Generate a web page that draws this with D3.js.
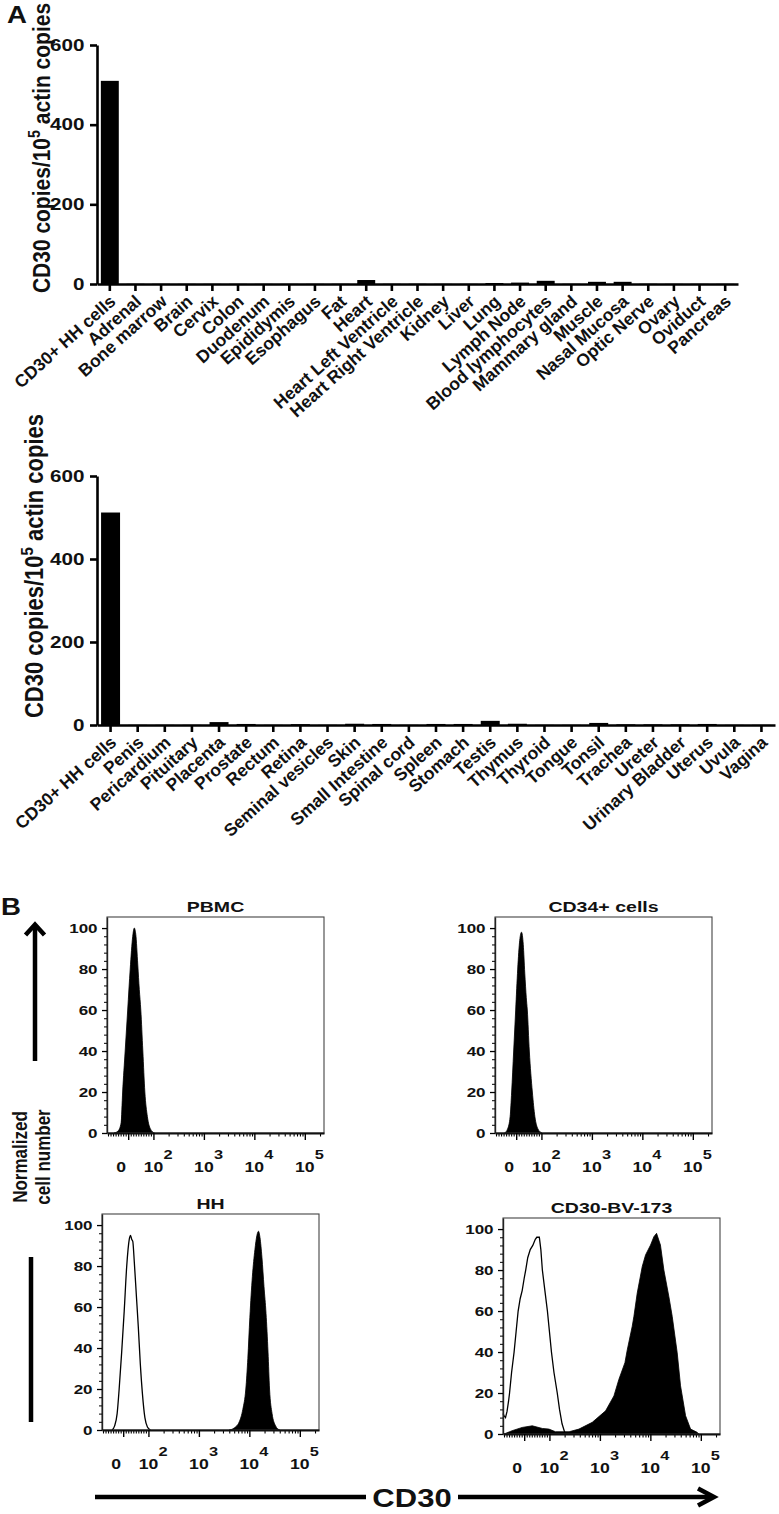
<!DOCTYPE html>
<html><head><meta charset="utf-8">
<script src="https://cdn.jsdelivr.net/npm/d3@7"></script>
<style>body{margin:0;background:#fff}text{font-family:"Liberation Sans",Arial,Helvetica,sans-serif;font-weight:bold;fill:#111}</style>
</head><body>
<script>
// ---------- Panel A data ----------
const tissuesTop = ["CD30+ HH cells","Adrenal","Bone marrow","Brain","Cervix","Colon","Duodenum","Epididymis","Esophagus","Fat","Heart","Heart Left Ventricle","Heart Right Ventricle","Kidney","Liver","Lung","Lymph Node","Blood lymphocytes","Mammary gland","Muscle","Nasal Mucosa","Optic Nerve","Ovary","Oviduct","Pancreas"];
const copiesTop = [510,0.4,0.4,0.3,0.3,0.3,0.3,0.3,0.3,0.4,10,0.4,0.4,0.3,0.3,2.5,3.5,8,0.4,5.5,5.5,0.4,0.3,0.3,0.3];
const tissuesBottom = ["CD30+ HH cells","Penis","Pericardium","Pituitary","Placenta","Prostate","Rectum","Retina","Seminal vesicles","Skin","Small Intestine","Spinal cord","Spleen","Stomach","Testis","Thymus","Thyroid","Tongue","Tonsil","Trachea","Ureter","Urinary Bladder","Uterus","Uvula","Vagina"];
const copiesBottom = [512,0.3,0.3,0.3,7,2.5,0.3,2,0.3,3,2.5,0.3,2.5,2.5,10,3,0.3,0.3,5,1.5,1.5,1.5,2.5,0.3,0.3];
const barYTicks = [0,200,400,600];

// ---------- Panel B data (x in display decades of the biexponential CD30 axis, y in % of max) ----------
const histYTicks = [0,20,40,60,80,100];
const histXTickPos = [1.5,2,3,4,5];
const histXTickLabels = ["0","2","3","4","5"];   // "0", then exponents of 10
const pbmcFilled = [[1.22,0],[1.3,1],[1.36,5],[1.39,20],[1.44,40],[1.49,60],[1.54,80],[1.59,96],[1.62,100],[1.65,97],[1.69,82],[1.72,70],[1.75,60],[1.79,40],[1.83,20],[1.88,8],[1.94,2],[2.02,0]];
const cd34Filled = [[1.27,0],[1.33,2],[1.38,8],[1.41,20],[1.45,40],[1.49,60],[1.53,80],[1.57,94],[1.605,98],[1.64,92],[1.67,78],[1.70,66],[1.72,60],[1.76,40],[1.82,20],[1.87,8],[1.93,2],[2.01,0]];
const hhOpen = [[1.28,0],[1.33,2],[1.38,8],[1.42,20],[1.47,38],[1.52,58],[1.57,80],[1.62,93],[1.645,95],[1.67,93],[1.69,92],[1.72,82],[1.76,66],[1.8,50],[1.84,32],[1.88,18],[1.93,6],[1.98,1.5],[2.04,0]];
const hhFilled = [[3.6,0],[3.7,1],[3.8,4],[3.87,10],[3.93,20],[3.97,35],[4.01,55],[4.06,75],[4.11,88],[4.15,95],[4.18,97],[4.21,94],[4.25,84],[4.29,70],[4.33,57],[4.37,38],[4.40,20],[4.45,8],[4.52,2],[4.6,0]];
const bvOpen = [[1.08,10],[1.1,9],[1.13,8],[1.16,11],[1.19,16],[1.21,20],[1.25,30],[1.30,40],[1.34,50],[1.38,60],[1.42,66],[1.46,70],[1.50,76],[1.53,80],[1.57,86],[1.62,90],[1.67,92],[1.72,95],[1.75,96],[1.80,96],[1.83,90],[1.86,80],[1.91,70],[1.96,60],[2.0,50],[2.04,40],[2.09,30],[2.155,20],[2.2,12],[2.25,5],[2.3,1],[2.35,0]];
const bvFilled = [[1.10,0],[1.26,1.6],[1.46,3.2],[1.66,4],[1.86,2.7],[1.99,2.4],[2.12,1.1],[2.39,1.1],[2.585,2.4],[2.849,5.7],[3.113,11.3],[3.278,18.6],[3.377,26.7],[3.496,34.8],[3.542,41],[3.641,52.6],[3.674,57.4],[3.74,68.8],[3.839,81.7],[3.905,87.4],[4.004,92.2],[4.07,96.3],[4.123,97.9],[4.2,92.2],[4.268,80],[4.367,67],[4.433,57.4],[4.532,39.6],[4.598,23.5],[4.698,8.9],[4.797,2.4],[4.928,0.8],[4.96,0]];

const W = 779, H = 1514, SX = 1.26;
const svg = d3.select("body").append("svg").attr("width", W).attr("height", H);
svg.append("rect").attr("width", W).attr("height", H).attr("fill", "#fff");

function stext(parent, x, y, str, size, anchor, sx) {
  return parent.append("text")
    .attr("transform", `translate(${x},${y}) scale(${sx == null ? SX : sx},1)`)
    .attr("text-anchor", anchor || "start")
    .attr("font-size", size).text(str);
}

// ---------- Bar charts ----------
function barChart(cats, vals, o) {
  const g = svg.append("g");
  const y = d3.scaleLinear().domain([0, 600]).range([o.base, o.top]);
  const x = d3.scaleBand().domain(cats).range([97, o.right]).paddingInner(0.3).paddingOuter(0.15);
  g.selectAll("rect.bar").data(vals).join("rect").attr("class", "bar")
    .attr("x", (d, i) => x(cats[i])).attr("y", d => y(d))
    .attr("width", x.bandwidth()).attr("height", d => y(0) - y(d)).attr("fill", "#000");
  const ya = g.append("g").attr("transform", "translate(97,0)")
    .call(d3.axisLeft(y).tickValues(barYTicks).tickSize(7).tickSizeOuter(0).tickPadding(3));
  ya.select(".domain").attr("stroke", "#000").attr("stroke-width", 2.6);
  ya.selectAll(".tick line").attr("stroke", "#000").attr("stroke-width", 2.6);
  ya.selectAll(".tick text").attr("font-size", 16.5).attr("font-family", null)
    .attr("transform", "scale(1.25,1)").attr("fill", "#111");
  const xa = g.append("g").attr("transform", `translate(0,${o.base})`)
    .call(d3.axisBottom(x).tickSize(7).tickSizeOuter(0));
  xa.select(".domain").attr("stroke", "#000").attr("stroke-width", 2.6);
  xa.selectAll(".tick line").attr("stroke", "#000").attr("stroke-width", 2.6);
  xa.selectAll(".tick text").attr("font-size", 17.5).attr("font-family", null).attr("fill", "#111")
    .attr("x", 0).attr("y", 0).attr("dy", 0)
    .attr("transform", "translate(7,19) rotate(-42)").attr("text-anchor", "end");
  // y label
  const t = g.append("text").attr("text-anchor", "middle").attr("font-size", o.ls)
    .attr("transform", `translate(${o.lx},${o.ly}) scale(1.15,1) rotate(-90)`);
  t.append("tspan").text("CD30 copies/10");
  t.append("tspan").attr("font-size", o.ls * 0.68).attr("dy", -9).text("5");
  t.append("tspan").attr("dy", 9).text(" actin copies");
}
barChart(tissuesTop, copiesTop, {base: 284, top: 45, right: 738, lx: 50, ly: 148, ls: 21});
barChart(tissuesBottom, copiesBottom, {base: 725, top: 476, right: 775, lx: 43, ly: 566, ls: 22});
stext(svg, 7, 23, "A", 23, "start", 1.2);

// ---------- Histograms ----------
const PW = 217, PH = 216;
function hist(o) {
  const g = svg.append("g");
  const x = d3.scaleLinear().domain([1.08, 5.38]).range([o.left, o.left + PW]);
  const y = d3.scaleLinear().domain([0, 105.4]).range([o.top + PH, o.top]);
  const curve = o.jagged ? d3.curveLinear : d3.curveMonotoneX;
  (o.filled || []).forEach(s => {
    g.append("path").datum(s).attr("fill", "#000").attr("stroke", "#000").attr("stroke-width", 0.8)
      .attr("d", d3.area().x(d => x(d[0])).y0(y(0)).y1(d => y(d[1])).curve(curve));
  });
  (o.open || []).forEach(s => {
    g.append("path").datum(s).attr("fill", "none").attr("stroke", "#000").attr("stroke-width", 1.3)
      .attr("d", d3.line().x(d => x(d[0])).y(d => y(d[1])).curve(curve));
  });
  g.append("rect").attr("x", o.left).attr("y", o.top).attr("width", PW).attr("height", PH)
    .attr("fill", "none").attr("stroke", "#444").attr("stroke-width", 1.1);
  // y axis
  const yMinor = d3.range(0, 101, 4).filter(v => v % 20 !== 0);
  const ym = g.append("g").attr("transform", `translate(${o.left},0)`)
    .call(d3.axisLeft(y).tickValues(yMinor).tickSize(3).tickFormat(""));
  ym.select(".domain").remove();
  const ya = g.append("g").attr("transform", `translate(${o.left},0)`)
    .call(d3.axisLeft(y).tickValues(histYTicks).tickSize(5).tickSizeOuter(0).tickPadding(4));
  ya.select(".domain").attr("stroke", "#222").attr("stroke-width", 1.4);
  ya.selectAll(".tick line").attr("stroke-width", 1.3);
  ya.selectAll(".tick text").attr("font-size", 13.5).attr("font-family", null).attr("fill", "#111")
    .attr("transform", `scale(${SX},1)`).attr("x", -7.5);
  // x axis minor ticks (linear zone below 10^2, then log decades)
  const xMinor = [];
  for (let v = -80; v <= 90; v += 10) if (v !== 0) xMinor.push(1.5 + 0.005 * v);
  for (let n = 2; n <= 5; n++) for (let k = 2; k <= 9; k++) { const p = n + Math.log10(k); if (p < 5.38) xMinor.push(p); }
  const xm = g.append("g").attr("transform", `translate(0,${o.top + PH})`)
    .call(d3.axisBottom(x).tickValues(xMinor).tickSize(3.5).tickFormat(""));
  xm.select(".domain").remove();
  xm.selectAll(".tick line").attr("stroke-width", 1.1);
  const xa = g.append("g").attr("transform", `translate(0,${o.top + PH})`)
    .call(d3.axisBottom(x).tickValues(histXTickPos).tickSize(7).tickSizeOuter(0).tickFormat(""));
  xa.select(".domain").attr("stroke", "#111").attr("stroke-width", 2);
  xa.selectAll(".tick line").attr("stroke-width", 1.4);
  const base = o.top + PH + 39;
  histXTickPos.forEach((p, i) => {
    if (histXTickLabels[i] === "0") {
      stext(g, x(p) - 7, base, "0", 14, "middle");
    } else {
      stext(g, x(p), base, "10", 14, "middle");
      stext(g, x(p) + 10, base - 13, histXTickLabels[i], 13, "start");
    }
  });
  stext(g, o.left + PW / 2, o.top - 5, o.title, 15.5, "middle");
}
hist({left: 107, top: 917, title: "PBMC", filled: [pbmcFilled]});
hist({left: 495, top: 917, title: "CD34+ cells", filled: [cd34Filled]});
hist({left: 102, top: 1214, title: "HH", filled: [hhFilled], open: [hhOpen]});
hist({left: 503, top: 1218, title: "CD30-BV-173", filled: [bvFilled], open: [bvOpen], jagged: true});

// ---------- Panel B decorations ----------
stext(svg, 1, 915, "B", 23, "start", 1.2);
svg.append("line").attr("x1", 35).attr("x2", 35).attr("y1", 1061).attr("y2", 926).attr("stroke", "#000").attr("stroke-width", 4.5);
svg.append("path").attr("d", "M25.5,935 L35,924.5 L44.5,935").attr("fill", "none").attr("stroke", "#000").attr("stroke-width", 4.5);
svg.append("line").attr("x1", 31).attr("x2", 31).attr("y1", 1257).attr("y2", 1422).attr("stroke", "#000").attr("stroke-width", 4.5);
const yl = svg.append("g");
yl.append("text").attr("text-anchor", "middle").attr("font-size", 17)
  .attr("transform", `translate(27,1157) scale(1.22,1) rotate(-90)`).text("Normalized");
yl.append("text").attr("text-anchor", "middle").attr("font-size", 17)
  .attr("transform", `translate(50,1157) scale(1.22,1) rotate(-90)`).text("cell number");
svg.append("line").attr("x1", 95).attr("x2", 366).attr("y1", 1497).attr("y2", 1497).attr("stroke", "#000").attr("stroke-width", 4.5);
svg.append("line").attr("x1", 458).attr("x2", 713).attr("y1", 1497).attr("y2", 1497).attr("stroke", "#000").attr("stroke-width", 4.5);
svg.append("path").attr("d", "M698,1488.5 L714,1497 L698,1505.5").attr("fill", "none").attr("stroke", "#000").attr("stroke-width", 4.5);
stext(svg, 412, 1507, "CD30", 25, "middle", 1.24);
</script>
</body></html>
